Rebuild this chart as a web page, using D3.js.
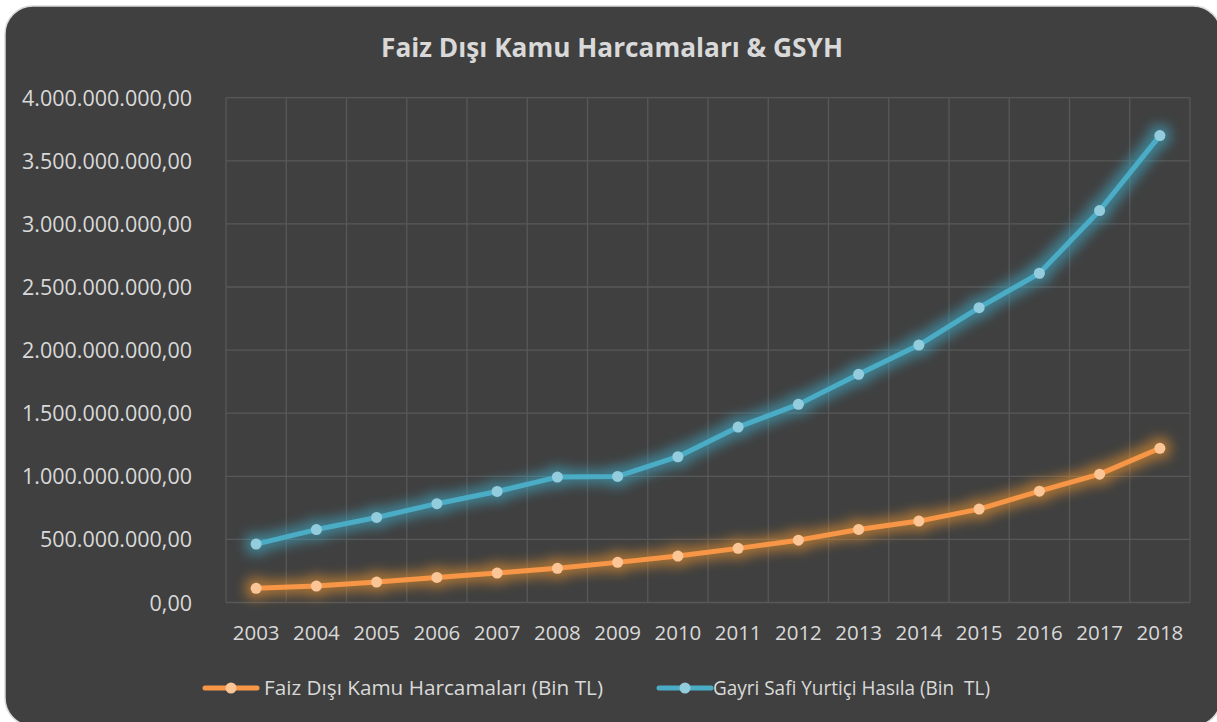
<!DOCTYPE html>
<html>
<head>
<meta charset="utf-8">
<script src="https://cdn.jsdelivr.net/npm/d3@7"></script>
<style>
  body { margin: 0; background: #ffffff; }
  svg text { font-family: "Open Sans", "DejaVu Sans", sans-serif; fill: #d9d9d9; }
</style>
</head>
<body>
<div class="chart"></div>
<script>
// values in thousand TL
var years = ["2003","2004","2005","2006","2007","2008","2009","2010","2011","2012","2013","2014","2015","2016","2017","2018"];
var faizDisi = [112000000, 130000000, 162000000, 199000000, 233000000, 271000000, 318000000, 368000000,
                429000000, 494000000, 579000000, 645000000, 740000000, 882000000, 1017000000, 1222000000];
var gsyh = [463000000, 578000000, 674000000, 783000000, 880000000, 994000000, 999000000, 1155000000,
            1390000000, 1570000000, 1808000000, 2040000000, 2336000000, 2609000000, 3106000000, 3700000000];
var yTicks = [0, 500000000, 1000000000, 1500000000, 2000000000, 2500000000, 3000000000, 3500000000, 4000000000];

var svgWidth = 1217;
var svgHeight = 722;
var margin = {top: 97.7, right: 27, bottom: 119.5, left: 226};
var width = svgWidth - margin.left - margin.right;
var height = svgHeight - margin.top - margin.bottom;

var series = [
    {name: "Faiz Dışı Kamu Harcamaları (Bin TL)", values: faizDisi, line: "#f79646", dot: "#fbc596", glow: "#e8922e", glowOp: 0.6, len: 339},
    {name: "Gayri Safi Yurtiçi Hasıla (Bin  TL)", values: gsyh, line: "#4bacc6", dot: "#93cddd", glow: "#3fa8c4", glowOp: 0.6, len: 277}
];

var trLocale = d3.formatLocale({decimal: ",", thousands: ".", grouping: [3], currency: ["", " TL"]});
var fmt = trLocale.format(",.2f");

var root = d3.select(".chart").append("svg")
    .attr("width", svgWidth)
    .attr("height", svgHeight);

// glow filters
var defs = root.append("defs");
series.forEach(function(s, i) {
    var f = defs.append("filter")
        .attr("id", "glow" + i)
        .attr("filterUnits", "userSpaceOnUse")
        .attr("x", 0).attr("y", 0)
        .attr("width", svgWidth).attr("height", svgHeight);
    f.append("feMorphology").attr("in", "SourceAlpha").attr("operator", "dilate").attr("radius", 5).attr("result", "d");
    f.append("feGaussianBlur").attr("in", "d").attr("stdDeviation", 6).attr("result", "b");
    f.append("feFlood").attr("flood-color", s.glow).attr("flood-opacity", s.glowOp);
    f.append("feComposite").attr("in2", "b").attr("operator", "in").attr("result", "g");
    var m = f.append("feMerge");
    m.append("feMergeNode").attr("in", "g");
    m.append("feMergeNode").attr("in", "SourceGraphic");
});

// card background
root.append("rect")
    .attr("x", 5).attr("y", 6)
    .attr("width", 1216).attr("height", 720)
    .attr("rx", 28).attr("ry", 28)
    .attr("fill", "#404040")
    .attr("stroke", "#d9d9d9")
    .attr("stroke-width", 1.5);

root.append("text")
    .attr("x", 612)
    .attr("y", 57)
    .attr("text-anchor", "middle")
    .style("font-size", "27px")
    .style("font-weight", "bold")
    .attr("textLength", 462)
    .attr("lengthAdjust", "spacingAndGlyphs")
    .text("Faiz Dışı Kamu Harcamaları & GSYH");

var chartGroup = root.append("g")
    .attr("transform", "translate(" + margin.left + "," + margin.top + ")");

var xBand = d3.scaleBand().domain(years).range([0, width]).padding(0);
var yLinearScale = d3.scaleLinear().domain([0, 4000000000]).range([height, 0]);

// grid
chartGroup.append("g").selectAll("line.h")
    .data(yTicks)
    .enter().append("line")
    .attr("x1", 0).attr("x2", width)
    .attr("y1", function(d) { return yLinearScale(d); })
    .attr("y2", function(d) { return yLinearScale(d); })
    .attr("stroke", "#585858")
    .attr("stroke-width", 1.3);

var edges = years.map(function(y) { return xBand(y); }).concat([width]);
chartGroup.append("g").selectAll("line.v")
    .data(edges)
    .enter().append("line")
    .attr("x1", function(d) { return d; }).attr("x2", function(d) { return d; })
    .attr("y1", 0).attr("y2", height)
    .attr("stroke", "#585858")
    .attr("stroke-width", 1.3);

// axes (labels only)
var leftAxis = d3.axisLeft(yLinearScale).tickValues(yTicks).tickFormat(fmt).tickSize(0).tickPadding(34);
var yAxisG = chartGroup.append("g").call(leftAxis);
yAxisG.select(".domain").remove();
yAxisG.selectAll("text").style("font-size", "21.5px").attr("fill", "#d9d9d9").attr("dy", "0.35em").attr("font-family", null);

var bottomAxis = d3.axisBottom(xBand).tickSize(0).tickPadding(23);
var xAxisG = chartGroup.append("g").attr("transform", "translate(0," + height + ")").call(bottomAxis);
xAxisG.select(".domain").remove();
xAxisG.selectAll("text").style("font-size", "20.5px").attr("fill", "#d9d9d9").attr("font-family", null);

// lines
var line = d3.line()
    .x(function(d, i) { return xBand(years[i]) + xBand.bandwidth() / 2; })
    .y(function(d) { return yLinearScale(d); });

series.forEach(function(s, i) {
    var g = chartGroup.append("g").attr("filter", "url(#glow" + i + ")");
    g.append("path")
        .datum(s.values)
        .attr("d", line)
        .attr("fill", "none")
        .attr("stroke", s.line)
        .attr("stroke-width", 5)
        .attr("stroke-linejoin", "round")
        .attr("stroke-linecap", "round");
    g.selectAll("circle")
        .data(s.values)
        .enter().append("circle")
        .attr("cx", function(d, j) { return xBand(years[j]) + xBand.bandwidth() / 2; })
        .attr("cy", function(d) { return yLinearScale(d); })
        .attr("r", 5.5)
        .attr("fill", s.dot);
});

// legend
var legendPos = [{x: 205, tx: 264}, {x: 659, tx: 713}];
var legend = root.append("g").selectAll("g")
    .data(series)
    .enter().append("g")
    .attr("transform", function(d, i) { return "translate(" + legendPos[i].x + ",688)"; });
legend.append("line")
    .attr("x1", 0).attr("x2", 52)
    .attr("stroke", function(d) { return d.line; })
    .attr("stroke-width", 5)
    .attr("stroke-linecap", "round");
legend.append("circle")
    .attr("cx", 26).attr("r", 5.5)
    .attr("fill", function(d) { return d.dot; });
legend.append("text")
    .attr("x", function(d, i) { return legendPos[i].tx - legendPos[i].x; })
    .attr("y", 7)
    .style("font-size", "20px")
    .attr("xml:space", "preserve")
    .attr("textLength", function(d) { return d.len; })
    .attr("lengthAdjust", "spacingAndGlyphs")
    .text(function(d) { return d.name; });
</script>
</body>
</html>
